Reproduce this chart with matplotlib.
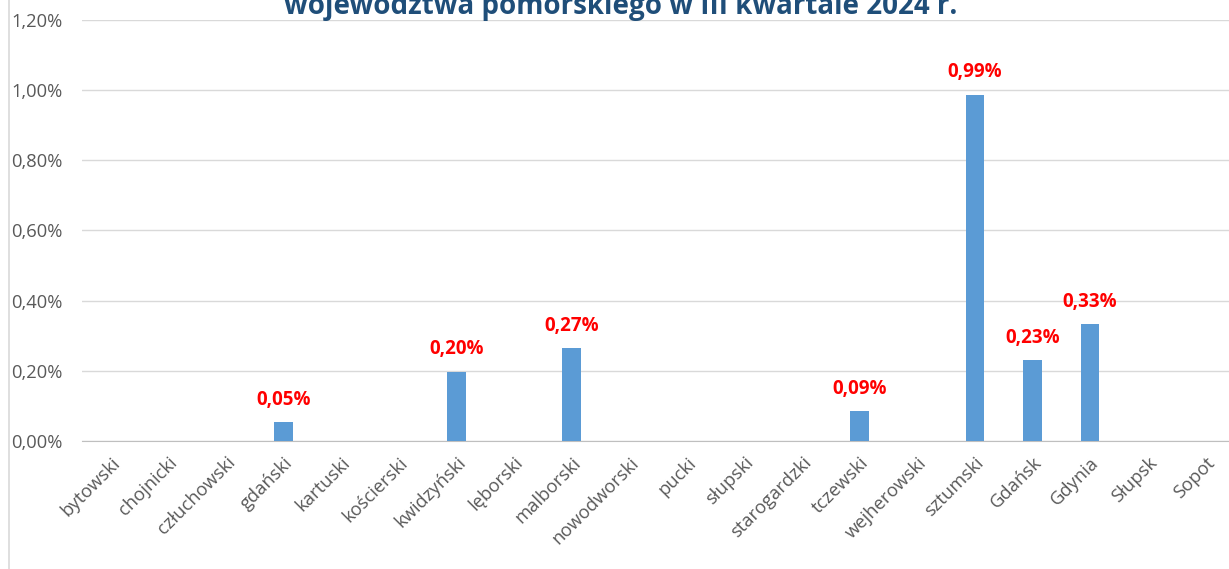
import matplotlib.pyplot as plt
from matplotlib.ticker import FuncFormatter
from matplotlib.lines import Line2D

# Data (values in %)
regions = ['bytowski', 'chojnicki', 'człuchowski', 'gdański', 'kartuski',
           'kościerski', 'kwidzyński', 'lęborski', 'malborski', 'nowodworski',
           'pucki', 'słupski', 'starogardzki', 'tczewski', 'wejherowski',
           'sztumski', 'Gdańsk', 'Gdynia', 'Słupsk', 'Sopot']
values = [0, 0, 0, 0.053, 0, 0, 0.198, 0, 0.265, 0,
          0, 0, 0, 0.085, 0, 0.987, 0.230, 0.333, 0, 0]
labels = [None, None, None, '0,05%', None, None, '0,20%', None, '0,27%', None,
          None, None, None, '0,09%', None, '0,99%', '0,23%', '0,33%', None, None]
yticks = [0, 0.2, 0.4, 0.6, 0.8, 1.0, 1.2]

plt.rcParams['font.family'] = ['Open Sans', 'DejaVu Sans']

W, H = 1229, 569
fig = plt.figure(figsize=(W / 100, H / 100), dpi=100)
# axes spans x 82..1234 px, y 20..441 px (cropped at the right like the source)
ax = fig.add_axes([82 / W, 1 - 441 / H, (1234 - 82) / W, (441 - 20) / H])

x = range(len(regions))
ax.bar(x, values, width=0.32, color='#5B9BD5', zorder=3)

for xi, v, lab in zip(x, values, labels):
    if lab:
        ax.annotate(lab, (xi, v), xytext=(0, 9), textcoords='offset points',
                    ha='center', va='bottom', color='#FF0000',
                    fontsize=13.5, fontweight='bold')

ax.set_xlim(-0.5, len(regions) - 0.5)
ax.set_ylim(0, 1.2)
ax.set_yticks(yticks)
ax.yaxis.set_major_formatter(FuncFormatter(lambda v, p: f'{v:.2f}%'.replace('.', ',')))
ax.grid(axis='y', color='#D9D9D9', linewidth=1, zorder=0)

ax.set_xticks(list(x))
ax.set_xticklabels(regions, rotation=45, ha='right', rotation_mode='anchor')
ax.tick_params(axis='both', length=0, colors='#595959', labelsize=13.2)
ax.tick_params(axis='y', pad=14)
ax.tick_params(axis='x', pad=9)

for s in ['top', 'right', 'left']:
    ax.spines[s].set_visible(False)
ax.spines['bottom'].set_color('#BFBFBF')

# title, mostly cut off at the top edge
fig.text(0.505, 1 - 14 / H, 'województwa pomorskiego w III kwartale 2024 r.',
         ha='center', va='baseline', fontsize=20, fontweight='bold', color='#1F4E79')

# chart area border on the left
fig.add_artist(Line2D([9 / W, 9 / W], [0, 1], transform=fig.transFigure,
                      color='#D9D9D9', linewidth=1.2))

fig.savefig('out.png', dpi=100)
